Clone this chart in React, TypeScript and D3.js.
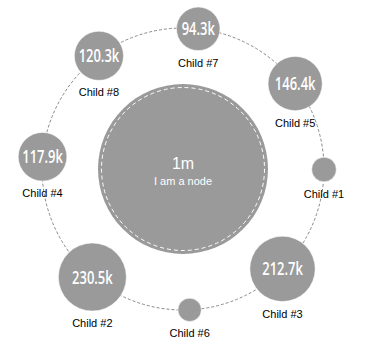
import React from "react";
import * as d3 from "d3";

const centerValueLabel = "1m";
const centerName = "I am a node";
const childNames = ["Child #1", "Child #2", "Child #3", "Child #4", "Child #5", "Child #6", "Child #7", "Child #8"];
const childValues = [30, 230.5, 212.7, 117.9, 146.4, 27, 94.3, 120.3]; // thousands
const childAngles = [0.2, 130.0, 45.1, 185.0, 322.7, 87.3, 276.2, 233.4]; // degrees, clockwise from east

const W = 366;
const H = 355;
const CX = 183;
const CY = 169;
const ORBIT = 141;
const CENTER_R = 85;
const FILL = "#9a9a9a";

export default function App() {
  const rScale = d3.scaleSqrt().domain([0, 230.5]).range([0, 34]);
  const fmt = d3.format(".1f");
  const nodes = childNames.map((name, i) => {
    const a = (childAngles[i] * Math.PI) / 180;
    return {
      name,
      value: childValues[i],
      x: CX + ORBIT * Math.cos(a),
      y: CY + ORBIT * Math.sin(a),
      r: rScale(childValues[i]),
    };
  });
  return (
    <svg width={W} height={H} style={{ position: "absolute", left: 0, top: 0 }}>
      <rect width={W} height={H} fill="#fff" />
      <circle cx={CX} cy={CY} r={ORBIT} fill="none" stroke="#8a8a8a" strokeWidth={1} strokeDasharray="3,2" />
      <circle cx={CX} cy={CY} r={CENTER_R} fill={FILL} />
      <circle cx={CX} cy={CY} r={CENTER_R - 3.5} fill="none" stroke="#fff" strokeWidth={1} strokeDasharray="4,3" />
      <text x={CX} y={168.5} textAnchor="middle" fill="#fff" fontFamily="'Liberation Sans', Arial, sans-serif" fontSize={16}>
        {centerValueLabel}
      </text>
      <text x={CX} y={185} textAnchor="middle" fill="#fff" fontFamily="'Liberation Sans', Arial, sans-serif" fontSize={11}>
        {centerName}
      </text>
      {nodes.map((n) => (
        <g key={n.name}>
          <circle cx={n.x} cy={n.y} r={n.r} fill={FILL} stroke="#fff" strokeWidth={0.5} />
          {n.r > 16 && (
            <text
              transform={`translate(${n.x},${n.y + 6.5}) scale(0.72,1)`}
              textAnchor="middle"
              fill="#fff"
              fontFamily="'Open Sans', sans-serif"
              fontWeight={600}
              fontSize={18}
            >
              {fmt(n.value) + "k"}
            </text>
          )}
          <text
            x={n.x}
            y={n.y + n.r + 16}
            textAnchor="middle"
            fill="#000"
            fontFamily="'Liberation Sans', Arial, sans-serif"
            fontSize={11}
          >
            {n.name}
          </text>
        </g>
      ))}
    </svg>
  );
}
